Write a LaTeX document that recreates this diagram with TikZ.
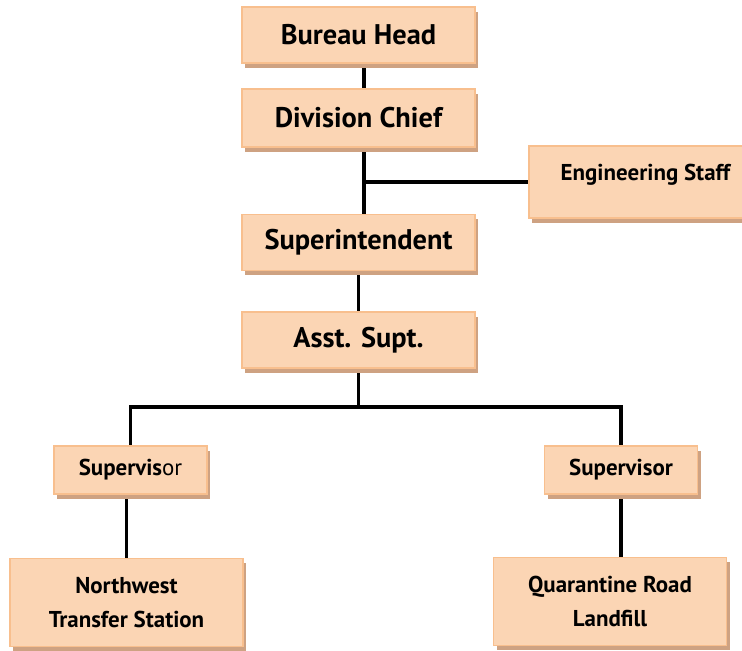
\documentclass[tikz,border=0pt]{standalone}
\usepackage{fontspec}
\setmainfont{PT Sans}
\usepackage{tikz}
\usetikzlibrary{shadows}
\usetikzlibrary{backgrounds}

\definecolor{boxfill}{RGB}{251,213,180}
\definecolor{boxedge}{RGB}{248,191,142}
\definecolor{boxshadow}{RGB}{206,162,130}

\tikzset{
  post/.style={draw=boxedge,fill=boxfill,line width=1.4pt,
    drop shadow={shadow xshift=2.4pt,shadow yshift=-3.6pt,fill=boxshadow,opacity=1},
    minimum width=174.75pt,minimum height=42pt,inner sep=0pt,
    font=\fontsize{21.3}{25}\selectfont\bfseries},
  smallpost/.style={post,font=\fontsize{17.2}{25}\selectfont\bfseries,align=center},
  link/.style={line width=2.9pt}
}

\begin{document}
\begin{tikzpicture}[x=0.75pt,y=-0.75pt]
        \useasboundingbox (0,0) rectangle (742,650);
        \clip (0,0) rectangle (742,650);
        \node[post] (bureau) at (358.5,35) {Bureau Head};
        \node[post,minimum height=43.5pt] (division) at (358.5,118) {Division Chief};
        \node[smallpost,minimum height=54pt,text depth=15pt] (eng) at (645.5,182) {Engineering Staff};
        \node[post] (super) at (358.5,242.5) {Superintendent};
        \node[post] (asst) at (358.5,340) {Asst. Supt.};
        \node[smallpost,minimum width=114.75pt,minimum height=36pt] (supL) at (130.5,470) {Supervis{\mdseries or}};
        \node[smallpost,minimum width=114.75pt,minimum height=36pt] (supR) at (621,470) {Supervisor};
        \node[smallpost,minimum height=66pt] (nw) at (126.5,602.5) {Northwest\\Transfer Station};
        \node[smallpost,minimum height=66pt] (quar) at (610,601.5) {Quarantine Road\\Landfill};
        \coordinate (spine) at (364,0);
        \coordinate (bar) at (358.5,407);
        \begin{pgfonlayer}{background}
          \draw[link] (bureau.south -| spine) -- (division.north -| spine);
          \draw[link] (division.south -| spine) -- (super.north -| spine);
          \draw[link] (eng.west -| spine) -- (eng.west);
          \draw[link] (super.south) -- (asst.north);
          \draw[link] (asst.south) -- (bar);
          \draw[link] (supL.north) |- (bar) -| (supR.north);
          \draw[link] (supL.south -| nw.north) -- (nw.north);
          \draw[link] (supR.south) -- (supR.south |- quar.north);
        \end{pgfonlayer}
      \end{tikzpicture}
\end{document}
